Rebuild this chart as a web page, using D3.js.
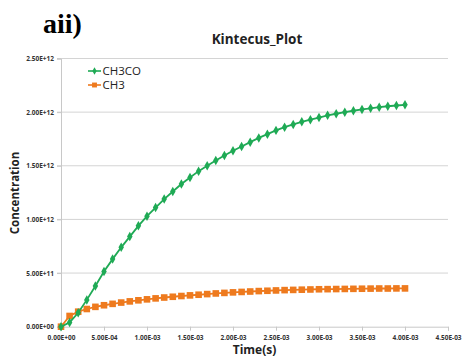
<!DOCTYPE html>
<html>
<head>
<meta charset="utf-8">
<script src="https://cdn.jsdelivr.net/npm/d3@7"></script>
<style>
  body { margin: 0; background: #fff; }
  text { font-family: "Open Sans", "Liberation Sans", sans-serif; }
</style>
</head>
<body>
<svg id="chart" width="464" height="358"></svg>
<script>
// time in ms (converted to s below), concentration in units of 1e12
var times = d3.range(0, 41).map(function(i) { return i / 10; });
var ch3co = [0, 0.04, 0.13, 0.25, 0.38, 0.515, 0.63, 0.74, 0.84, 0.94,
             1.03, 1.11, 1.19, 1.26, 1.33, 1.39, 1.45, 1.50, 1.55, 1.595,
             1.64, 1.68, 1.72, 1.76, 1.795, 1.83, 1.86, 1.885, 1.91, 1.93,
             1.95, 1.97, 1.985, 2.0, 2.013, 2.025, 2.036, 2.046, 2.055, 2.062, 2.068];
var ch3 = [0, 0.10, 0.14, 0.165, 0.185, 0.20, 0.213, 0.225, 0.236, 0.246,
           0.255, 0.264, 0.272, 0.279, 0.286, 0.292, 0.298, 0.304, 0.31, 0.315,
           0.32, 0.324, 0.328, 0.332, 0.335, 0.338, 0.341, 0.343, 0.345, 0.347,
           0.349, 0.35, 0.351, 0.352, 0.353, 0.354, 0.355, 0.356, 0.356, 0.357, 0.357];
var xTicks = ["0.00E+00", "5.00E-04", "1.00E-03", "1.50E-03", "2.00E-03",
              "2.50E-03", "3.00E-03", "3.50E-03", "4.00E-03", "4.50E-03"];
var yTicks = ["0.00E+00", "5.00E+11", "1.00E+12", "1.50E+12", "2.00E+12", "2.50E+12"];
var seriesNames = ["CH3CO", "CH3"];
var colors = ["#1faa55", "#ee7a1e"];

var svg = d3.select("#chart");
var x = d3.scaleLinear().domain([0, 4.5e-3]).range([61, 448]);
var y = d3.scaleLinear().domain([0, 2.5e12]).range([326.7, 58.5]);

// gridlines
svg.append("g")
  .selectAll("line")
  .data(d3.range(1, 6).map(function(i) { return i * 5e11; }))
  .enter().append("line")
  .attr("x1", 57).attr("x2", 448)
  .attr("y1", function(d) { return y(d); })
  .attr("y2", function(d) { return y(d); })
  .attr("stroke", "#d4d4d4").attr("stroke-width", 1);

// y axis
var yAxis = d3.axisLeft(y)
  .tickValues(d3.range(0, 6).map(function(i) { return i * 5e11; }))
  .tickFormat(function(d, i) { return yTicks[i]; })
  .tickSize(4).tickPadding(3);
var gy = svg.append("g").attr("transform", "translate(61,0)").call(yAxis);
gy.select(".domain").attr("stroke", "#c8c8c8");
gy.selectAll(".tick line").attr("stroke", "#c8c8c8");
gy.selectAll("text").attr("font-size", 6.5).attr("font-weight", "bold").attr("fill", "#333");

// x axis
var xAxis = d3.axisBottom(x)
  .tickValues(d3.range(0, 10).map(function(i) { return i * 5e-4; }))
  .tickFormat(function(d, i) { return xTicks[i]; })
  .tickSize(4).tickPadding(5);
var gx = svg.append("g").attr("transform", "translate(0,326.7)").call(xAxis);
gx.select(".domain").attr("stroke", "#c8c8c8");
gx.selectAll(".tick line").attr("stroke", "#c8c8c8");
gx.selectAll("text").attr("font-size", 6.5).attr("font-weight", "bold").attr("fill", "#333");

// lines
var line = d3.line()
  .x(function(d) { return x(d[0] / 1000); })
  .y(function(d) { return y(d[1] * 1e12); });

[ch3, ch3co].forEach(function(vals, k) {
  var c = k === 0 ? colors[1] : colors[0];
  var pts = times.map(function(t, i) { return [t, vals[i]]; });
  svg.append("path").datum(pts)
    .attr("d", line).attr("fill", "none")
    .attr("stroke", c).attr("stroke-width", 1.8);
  if (k === 0) {
    svg.append("g").selectAll("rect").data(pts).enter().append("rect")
      .attr("x", function(d) { return x(d[0] / 1000) - 3.3; })
      .attr("y", function(d) { return y(d[1] * 1e12) - 3.3; })
      .attr("width", 6.6).attr("height", 6.6)
      .attr("fill", c);
  } else {
    svg.append("g").selectAll("path").data(pts).enter().append("path")
      .attr("d", d3.symbol().type(d3.symbolDiamond).size(26))
      .attr("transform", function(d) {
        return "translate(" + x(d[0] / 1000) + "," + y(d[1] * 1e12) + ")";
      })
      .attr("fill", c);
  }
});

// legend
var legend = svg.selectAll(".legend")
  .data(seriesNames)
  .enter().append("g")
  .attr("class", "legend")
  .attr("transform", function(d, i) { return "translate(88," + (71 + i * 14) + ")"; });
legend.append("line")
  .attr("x1", 0).attr("x2", 13).attr("y1", 0).attr("y2", 0)
  .attr("stroke", function(d, i) { return colors[i]; }).attr("stroke-width", 1.6);
legend.append("path")
  .attr("d", function(d, i) {
    return i === 0 ? d3.symbol().type(d3.symbolDiamond).size(16)()
                   : d3.symbol().type(d3.symbolSquare).size(24)();
  })
  .attr("transform", "translate(6.5,0)")
  .attr("fill", function(d, i) { return colors[i]; });
legend.append("text")
  .attr("x", 14.5).attr("dy", "0.35em")
  .attr("font-size", 11.5).attr("fill", "#222")
  .text(function(d) { return d; });

// titles
svg.append("text")
  .attr("x", 43).attr("y", 33)
  .style("font-family", "'Liberation Serif', 'DejaVu Serif', serif")
  .attr("font-size", 28).attr("font-weight", "bold").attr("fill", "#000")
  .text("aii)");

svg.append("text")
  .attr("x", 257).attr("y", 44).attr("text-anchor", "middle")
  .attr("font-size", 13.5).attr("font-weight", "bold").attr("fill", "#222")
  .text("Kintecus_Plot");

svg.append("text")
  .attr("x", 254.5).attr("y", 354).attr("text-anchor", "middle")
  .attr("font-size", 12).attr("font-weight", "bold").attr("fill", "#222")
  .text("Time(s)");

svg.append("text")
  .attr("transform", "translate(19,193) rotate(-90)")
  .attr("text-anchor", "middle")
  .attr("font-size", 11.5).attr("font-weight", "bold").attr("fill", "#222")
  .text("Concentration");
</script>
</body>
</html>
